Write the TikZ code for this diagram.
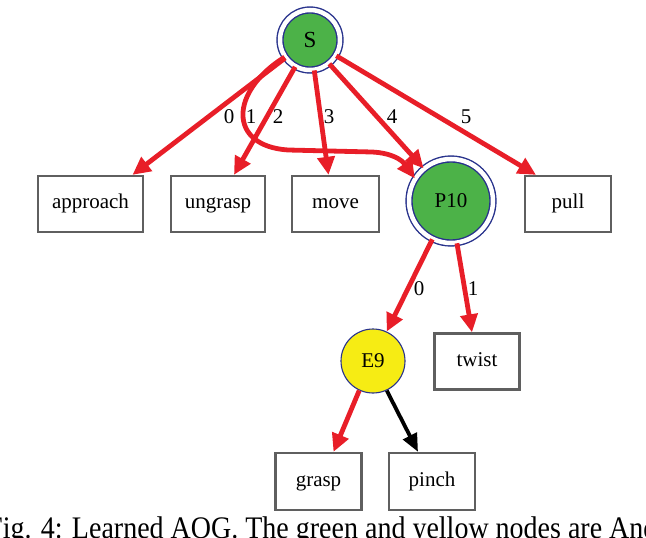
\documentclass[tikz,border=0pt]{standalone}
\usepackage{fontspec}
\setmainfont{Liberation Serif}
\usetikzlibrary{arrows.meta}
\definecolor{aogred}{RGB}{232,30,40}
\definecolor{aoggreen}{RGB}{76,178,72}
\definecolor{aogyellow}{RGB}{246,236,20}
\definecolor{ringblue}{RGB}{40,50,140}
\definecolor{boxgray}{RGB}{95,95,95}
\begin{document}
\begin{tikzpicture}[x=1pt,y=-1pt,
 every node/.style={font=\fontsize{21}{23}\selectfont},
 leaf/.style={draw=boxgray, line width=2.3pt, minimum height=56pt, inner sep=0pt, text height=14pt, text depth=4.5pt},
 ornode/.style={circle, draw=ringblue, fill=aoggreen, line width=1.4pt, double=white, double distance=4.5pt, inner sep=0pt},
 andnode/.style={circle, draw=ringblue, fill=aogyellow, line width=1.1pt, minimum size=64pt, inner sep=0pt},
 redge/.style={draw=aogred, line width=4.8pt, -{Triangle[length=18pt,width=17pt]}},
 bedge/.style={draw=black, line width=3.8pt, -{Triangle[length=18pt,width=15pt]}},
 elabel/.style={inner sep=1pt}
]
\useasboundingbox (0,0) rectangle (646,538);
\clip (0,0) rectangle (646,538);

% nodes
\node[ornode, minimum size=60pt] (S) at (310,40) {\fontsize{23}{25}\selectfont S};
\node[ornode, minimum size=84pt] (P10) at (451,201) {P10};
\node[andnode] (E9) at (373,361) {E9};
\node[leaf, minimum width=105pt] (approach) at (90.5,204) {approach};
\node[leaf, minimum width=94pt] (ungrasp) at (218,204) {ungrasp};
\node[leaf, minimum width=87pt] (move) at (335.5,204) {move};
\node[leaf, minimum width=86pt] (pull) at (568,204) {pull};
\node[leaf, minimum width=85pt] (twist) at (477,361.5) {twist};
\node[leaf, minimum width=86pt, minimum height=57pt] (grasp) at (318.5,481.5) {grasp};
\node[leaf, minimum width=86pt, minimum height=57pt] (pinch) at (432,481.5) {pinch};

% edges from S
\draw[redge] (S.216) -- ([xshift=42pt]approach.north);
\draw[redge] (S.214) .. controls (229,92) and (228,146) .. (288,150)
   -- (372,152) .. controls (392,153) and (402,160) .. (P10.148);
\draw[redge] (S.241) -- ([xshift=16pt]ungrasp.north);
\draw[redge] (S.278) -- ([xshift=-7pt]move.north);
\draw[redge] (S.309) -- (P10.130);
\draw[redge] (S.329) -- ([xshift=-32pt]pull.north);

% edges from P10
\draw[redge] (P10.244) -- (E9.65);
\draw[redge] (P10.278) -- ([xshift=-5pt]twist.north);

% edges from E9
\draw[redge] (E9.245) -- ([xshift=15pt]grasp.north);
\draw[bedge] (E9.295) -- ([xshift=-14pt]pinch.north);

% edge labels
\node[elabel] (l0) at (229,117) {0};
\node[elabel] (l1) at (251,117) {1};
\node[elabel] (l2) at (278,117) {2};
\node[elabel] (l3) at (329,117) {3};
\node[elabel] (l4) at (392,117) {4};
\node[elabel] (l5) at (466,117) {5};
\node[elabel] (m0) at (419,289) {0};
\node[elabel] (m1) at (473,289) {1};

% caption (cut off in the reference)
\node[anchor=base west, inner sep=0pt, font=\fontsize{28}{30}\selectfont] (cap) at (-13,538) {\scalebox{1}[1.12]{Fig. 4: Learned AOG. The green and yellow nodes are And}};
\end{tikzpicture}
\end{document}
